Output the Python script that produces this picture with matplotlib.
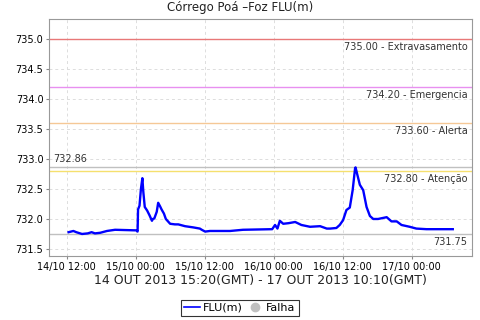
import matplotlib
matplotlib.use("Agg")
import matplotlib.pyplot as plt
import matplotlib.dates as mdates
from matplotlib.lines import Line2D
from matplotlib.transforms import offset_copy
import pandas as pd

# leituras (hora local)
times = [
    "2013-10-14 12:20", "2013-10-14 13:10", "2013-10-14 13:40", "2013-10-14 14:40",
    "2013-10-14 15:40", "2013-10-14 16:20", "2013-10-14 16:55", "2013-10-14 17:50",
    "2013-10-14 19:00", "2013-10-14 20:25", "2013-10-15 00:10", "2013-10-15 00:20",
    "2013-10-15 00:25", "2013-10-15 00:40", "2013-10-15 00:55", "2013-10-15 01:10",
    "2013-10-15 01:20", "2013-10-15 01:35", "2013-10-15 02:00", "2013-10-15 02:25",
    "2013-10-15 02:50", "2013-10-15 03:00", "2013-10-15 03:15", "2013-10-15 03:40",
    "2013-10-15 03:55", "2013-10-15 04:15", "2013-10-15 04:30", "2013-10-15 04:55",
    "2013-10-15 05:15", "2013-10-15 06:00", "2013-10-15 06:50", "2013-10-15 07:25",
    "2013-10-15 08:35", "2013-10-15 10:00", "2013-10-15 11:10", "2013-10-15 11:30",
    "2013-10-15 12:05", "2013-10-15 12:55", "2013-10-15 16:25", "2013-10-15 18:40",
    "2013-10-15 23:45", "2013-10-16 00:15", "2013-10-16 00:40", "2013-10-16 01:05",
    "2013-10-16 01:40", "2013-10-16 02:35", "2013-10-16 03:45", "2013-10-16 04:50",
    "2013-10-16 06:20", "2013-10-16 08:05", "2013-10-16 09:15", "2013-10-16 09:50",
    "2013-10-16 10:55", "2013-10-16 11:30", "2013-10-16 12:05", "2013-10-16 12:40",
    "2013-10-16 13:15", "2013-10-16 13:45", "2013-10-16 14:10", "2013-10-16 14:15",
    "2013-10-16 14:35", "2013-10-16 15:00", "2013-10-16 15:35", "2013-10-16 16:10",
    "2013-10-16 16:45", "2013-10-16 17:20", "2013-10-16 18:10", "2013-10-16 19:40",
    "2013-10-16 20:30", "2013-10-16 21:25", "2013-10-16 22:15", "2013-10-16 23:40",
    "2013-10-17 00:50", "2013-10-17 02:35", "2013-10-17 07:10",
]
levels = [
    731.78, 731.80, 731.78, 731.75,
    731.76, 731.78, 731.76, 731.77,
    731.80, 731.82, 731.81, 731.79,
    732.16, 732.22, 732.50, 732.68,
    732.45, 732.20, 732.14, 732.06,
    731.97, 732.00, 732.01, 732.12,
    732.27, 732.21, 732.16, 732.09,
    732.00, 731.92, 731.91, 731.91,
    731.88, 731.86, 731.84, 731.82,
    731.79, 731.80, 731.80, 731.82,
    731.83, 731.90, 731.84, 731.97,
    731.92, 731.93, 731.95, 731.90,
    731.87, 731.88, 731.84, 731.84,
    731.85, 731.90, 731.98, 732.15,
    732.19, 732.48, 732.84, 732.86,
    732.73, 732.57, 732.48, 732.20,
    732.05, 732.00, 732.00, 732.03,
    731.96, 731.96, 731.90, 731.87,
    731.84, 731.83, 731.83,
]

# cotas de referencia
limit_values = [735.00, 734.20, 733.60, 732.80]
limit_names = ["Extravasamento", "Emergencia", "Alerta", "Atenção"]
limit_colors = ["#e87878", "#e890f0", "#f5c896", "#f5e06e"]

max_level = 732.86
min_level = 731.75

t = pd.to_datetime(times)

fig = plt.figure(figsize=(4.8, 3.2), dpi=100)
ax = fig.add_axes([0.102, 0.2, 0.881, 0.7406])

ax.grid(True, color="#dddddd", linestyle=(0, (3, 3)), linewidth=0.7)
ax.set_axisbelow(True)

for v, name, c in zip(limit_values, limit_names, limit_colors):
    ax.axhline(v, color=c, linewidth=1, zorder=2)
    tr = offset_copy(ax.get_yaxis_transform(), fig=fig, x=0, y=-3, units="dots")
    ax.text(0.99, v, "%.2f - %s" % (v, name), transform=tr, ha="right", va="top",
            fontsize=7, color="#333333")

ax.axhline(max_level, color="#c0c0c0", linewidth=1, zorder=2)
tr = offset_copy(ax.get_yaxis_transform(), fig=fig, x=0, y=3, units="dots")
ax.text(0.01, max_level, "%.2f" % max_level, transform=tr, ha="left", va="bottom",
        fontsize=7, color="#333333")

ax.axhline(min_level, color="#c0c0c0", linewidth=1, zorder=2)
tr = offset_copy(ax.get_yaxis_transform(), fig=fig, x=0, y=-3, units="dots")
ax.text(0.99, min_level, "%.2f" % min_level, transform=tr, ha="right", va="top",
        fontsize=7, color="#333333")

ax.plot(t, levels, color="#0000ff", linewidth=1.7, zorder=3)

ax.set_ylim(731.383, 735.333)
ax.set_xlim(pd.Timestamp("2013-10-14 08:55"), pd.Timestamp("2013-10-17 10:29"))
ax.set_yticks([731.5, 732.0, 732.5, 733.0, 733.5, 734.0, 734.5, 735.0])
ax.yaxis.set_major_formatter(matplotlib.ticker.FormatStrFormatter("%.1f"))
ax.xaxis.set_major_locator(mdates.HourLocator(byhour=[0, 12]))
ax.xaxis.set_major_formatter(mdates.DateFormatter("%d/%m %H:%M"))
ax.tick_params(labelsize=7, length=2, color="#888888", pad=2)

for s in ax.spines.values():
    s.set_color("#999999")

ax.set_xlabel("14 OUT 2013 15:20(GMT) - 17 OUT 2013 10:10(GMT)", fontsize=9,
              color="#222222", labelpad=2)
fig.text(0.5, 0.975, "Córrego Poá –Foz FLU(m)", ha="center", va="center",
         fontsize=8.5, color="#222222")

handles = [
    Line2D([], [], color="#0000ff", linewidth=1.2),
    Line2D([], [], color="#c0c0c0", marker="o", linestyle="", markersize=6),
]
leg = fig.legend(handles, ["FLU(m)", "Falha"], loc="center",
                 bbox_to_anchor=(0.5, 0.0375), ncol=2, fontsize=8, frameon=True,
                 fancybox=False, edgecolor="black", handlelength=1.4,
                 handletextpad=0.3, columnspacing=0.4, borderpad=0.3)
leg.get_frame().set_linewidth(0.8)

fig.savefig("out.png", dpi=100)
